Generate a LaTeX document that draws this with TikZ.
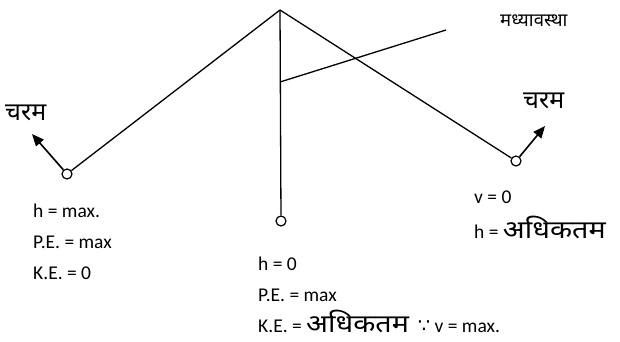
\documentclass[tikz,border=0pt]{standalone}
\usepackage{fontspec}
\setmainfont{Carlito}
\newfontfamily\hin[Script=Devanagari]{Noto Sans}
\newfontfamily\hinw[Script=Devanagari, FakeStretch=1.15]{Noto Sans}
\newfontfamily\sym{DejaVu Sans}
\usetikzlibrary{arrows.meta}
\newcommand{\dev}[1]{{\hinw\fontsize{25}{28}\selectfont #1}}
\tikzset{
  lbl/.style={anchor=base west, inner sep=0pt, font=\fontsize{19.5}{22}\selectfont},
  hlbl/.style={anchor=base west, inner sep=0pt, font=\hin\fontsize{25}{28}\selectfont},
  bob/.style={circle, draw, fill=white, minimum size=10pt, inner sep=0pt, line width=1.2pt},
  str/.style={line width=1.3pt},
  arr/.style={line width=1.6pt, -{Triangle[length=12pt,width=10pt]}}
}
\begin{document}
\begin{tikzpicture}[x=1pt,y=-1pt]
\useasboundingbox (0,0) rectangle (620,342);
\coordinate (P) at (280,10);
\coordinate (M1) at (280,82);
\coordinate (M2) at (446,30);
\coordinate (LA) at (32,134);
\coordinate (RA) at (545,126);
\node[bob] (L) at (67,174) {};
\node[bob] (C) at (281,221) {};
\node[bob] (R) at (516,161) {};
\draw[str] (P) -- (L);
\draw[str] (P) -- (C);
\draw[str] (P) -- (R);
\draw[str] (M1) -- (M2);
\draw[arr] (L) -- (LA);
\draw[arr] (R) -- (RA);
\node[hlbl, font=\hin\fontsize{18.5}{21}\selectfont] (t1) at (500,27) {मध्यावस्था};
\node[hlbl] (t2) at (5,121) {चरम};
\node[hlbl] (t3) at (523,108) {चरम};
\node[lbl] (a1) at (33,217) {h = max.};
\node[lbl] (a2) at (33,248) {P.E. = max};
\node[lbl] (a3) at (33,279) {K.E. = 0};
\node[lbl] (b1) at (258,270) {h = 0};
\node[lbl] (b2) at (258,301) {P.E. = max};
\node[lbl] (b3) at (258,332) {K.E. = \dev{अधिकतम}\ \ {\sym ∵} v = max.};
\node[lbl] (c1) at (474,203) {v = 0};
\node[lbl] (c2) at (474,238) {h = \dev{अधिकतम}};
\end{tikzpicture}
\end{document}
